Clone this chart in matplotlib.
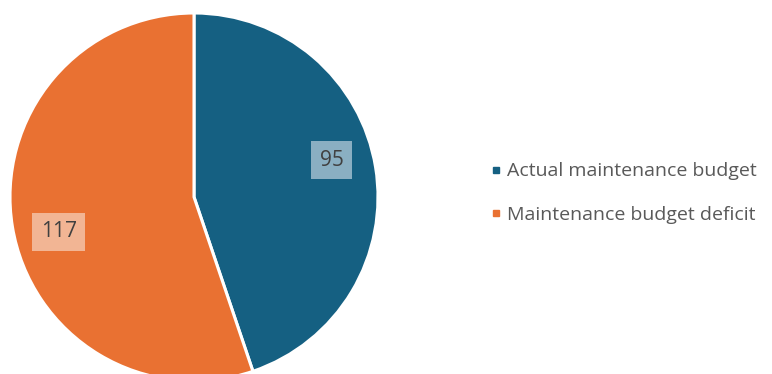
import matplotlib.pyplot as plt
from matplotlib.lines import Line2D

# Maintenance budget split
categories = ['Actual maintenance budget', 'Maintenance budget deficit']
values = [95, 117]
colors = ['#156082', '#E97132']
box_colors = ['#8AAFC2', '#F2B594']

plt.rcParams['font.family'] = ['Open Sans', 'DejaVu Sans']

fig = plt.figure(figsize=(7.72, 3.74), dpi=100)
W, H = 772, 374
cx, cy, r = 194, 197, 184
ax = fig.add_axes([(cx - r) / W, (H - cy - r) / H, 2 * r / W, 2 * r / H])

wedges, _ = ax.pie(values, colors=colors, startangle=90, counterclock=False,
                   wedgeprops=dict(edgecolor='white', linewidth=2.2))
ax.set_xlim(-1, 1)
ax.set_ylim(-1, 1)
ax.set_aspect('equal')

# data labels in boxes
label_pos = [(0.747, 0.201), (-0.736, -0.190)]
for v, (x, y), bc in zip(values, label_pos, box_colors):
    ax.text(x, y, str(v), ha='center', va='center', fontsize=15, color='#404040',
            bbox=dict(boxstyle='square,pad=0.42', facecolor=bc, edgecolor='none'))

handles = [Line2D([], [], marker='s', linestyle='none', markersize=5,
                  markerfacecolor=c, markeredgecolor=c) for c in colors]
fig.legend(handles, categories, loc='center left', bbox_to_anchor=(478 / W, 1 - 193 / H),
           frameon=False, fontsize=14, labelcolor='#595959', labelspacing=1.3,
           handletextpad=0.2, handlelength=0.8, borderpad=0)

fig.savefig('out.png', dpi=100)
